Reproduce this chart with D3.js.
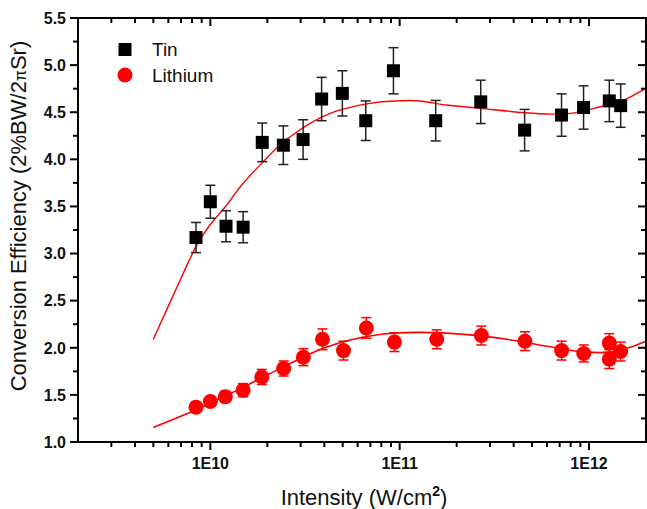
<!DOCTYPE html>
<html>
<head>
<meta charset="utf-8">
<script src="https://cdn.jsdelivr.net/npm/d3@7"></script>
<style>
  html, body { margin: 0; padding: 0; background: #fff; }
  svg { display: block; }
</style>
</head>
<body>
<svg id="chart" width="647" height="509"></svg>
<script>
// ---- data ----
const tinX = [8.4e9, 1.0e10, 1.21e10, 1.49e10, 1.88e10, 2.43e10, 3.09e10, 3.87e10, 4.98e10,
  6.62e10, 9.27e10, 1.55e11, 2.68e11, 4.57e11, 7.16e11, 9.36e11, 1.28e12, 1.47e12];
const tinY = [3.17, 3.55, 3.29, 3.28, 4.18, 4.15, 4.21, 4.64, 4.70,
  4.41, 4.94, 4.41, 4.61, 4.31, 4.47, 4.55, 4.62, 4.57];
const tinErr = [0.16, 0.175, 0.165, 0.165, 0.205, 0.205, 0.21, 0.23, 0.24,
  0.21, 0.245, 0.215, 0.23, 0.22, 0.225, 0.23, 0.22, 0.23];

const liX = [8.4e9, 1.0e10, 1.2e10, 1.49e10, 1.87e10, 2.44e10, 3.1e10, 3.91e10, 5.05e10, 6.67e10,
  9.38e10, 1.57e11, 2.7e11, 4.59e11, 7.17e11, 9.38e11, 1.28e12, 1.28e12, 1.47e12];
const liY = [1.37, 1.43, 1.48, 1.55, 1.69, 1.78, 1.90, 2.09, 1.97, 2.21,
  2.06, 2.09, 2.13, 2.07, 1.97, 1.94, 2.05, 1.88, 1.96];
const liErr = [0.05, 0.05, 0.06, 0.07, 0.08, 0.08, 0.09, 0.11, 0.10, 0.11,
  0.10, 0.10, 0.10, 0.10, 0.10, 0.09, 0.10, 0.10, 0.10];

// fit curves
const tinFitX = [5.0e9, 7.06e9, 8.48e9, 9.96e9, 1.2e10, 1.44e10, 1.76e10, 2.43e10, 2.64e10, 3.36e10,
  4.29e10, 5.47e10, 6.98e10, 8.9e10, 1.23e11, 1.77e11, 2.66e11, 4.57e11, 6.3e11, 8.0e11,
  8.97e11, 1.15e12, 1.46e12, 1.79e12, 2.0e12];
const tinFitY = [2.09, 2.754, 3.09, 3.303, 3.497, 3.709, 3.904, 4.187, 4.24, 4.382,
  4.488, 4.552, 4.594, 4.616, 4.622, 4.576, 4.541, 4.495, 4.48, 4.488,
  4.505, 4.558, 4.611, 4.70, 4.754];
const liFitX = [5.0e9, 8.37e9, 1.08e10, 1.49e10, 1.9e10, 2.43e10, 3.1e10, 3.95e10, 5.47e10, 8.2e10,
  1.23e11, 1.85e11, 2.77e11, 4.15e11, 6.22e11, 9.33e11, 1.29e12, 1.58e12, 2.0e12];
const liFitY = [1.155, 1.339, 1.445, 1.58, 1.69, 1.797, 1.903, 1.994, 2.082, 2.146,
  2.163, 2.153, 2.124, 2.074, 2.011, 1.957, 1.954, 1.994, 2.07];

const xMajor = [1e10, 1e11, 1e12];
const xMajorLabels = ['1E10', '1E11', '1E12'];
const yTicks = [1.0, 1.5, 2.0, 2.5, 3.0, 3.5, 4.0, 4.5, 5.0, 5.5];

// ---- layout ----
const svg = d3.select('#chart');
const mLeft = 78, mRight = 646, mTop = 18, mBottom = 442;
const font = "'Liberation Sans', Arial, sans-serif";

const x = d3.scaleLog().domain([2e9, 2e12]).range([mLeft, mRight]);
const y = d3.scaleLinear().domain([1.0, 5.5]).range([mBottom, mTop]);

// minor x ticks: 2..9 in each decade
const xMinor = [];
for (let e = 9; e <= 12; e++) {
  for (let m = 2; m <= 9; m++) {
    const v = m * Math.pow(10, e);
    if (v > 2e9 && v < 2e12) xMinor.push(v);
  }
}
const yMinor = d3.range(1.25, 5.5, 0.5);

// ---- fit curves ----
const line = d3.line()
  .x(d => x(d[0]))
  .y(d => y(d[1]))
  .curve(d3.curveCatmullRom.alpha(0.5));

svg.append('path')
  .datum(d3.zip(tinFitX, tinFitY))
  .attr('d', line)
  .attr('fill', 'none')
  .attr('stroke', '#f00')
  .attr('stroke-width', 1.4);

svg.append('path')
  .datum(d3.zip(liFitX, liFitY))
  .attr('d', line)
  .attr('fill', 'none')
  .attr('stroke', '#f00')
  .attr('stroke-width', 1.6);

// ---- error bars + markers ----
function errorBars(xs, ys, es, color) {
  const g = svg.append('g').attr('stroke', color).attr('stroke-width', 1.5);
  xs.forEach((xv, i) => {
    const cx = x(xv), y1 = y(ys[i] + es[i]), y2 = y(ys[i] - es[i]);
    g.append('line').attr('x1', cx).attr('x2', cx).attr('y1', y1).attr('y2', y2);
    g.append('line').attr('x1', cx - 5).attr('x2', cx + 5).attr('y1', y1).attr('y2', y1);
    g.append('line').attr('x1', cx - 5).attr('x2', cx + 5).attr('y1', y2).attr('y2', y2);
  });
}

errorBars(tinX, tinY, tinErr, '#222');
errorBars(liX, liY, liErr, '#f00');

svg.append('g').selectAll('rect')
  .data(d3.zip(tinX, tinY))
  .join('rect')
  .attr('x', d => x(d[0]) - 6.5)
  .attr('y', d => y(d[1]) - 6.5)
  .attr('width', 13)
  .attr('height', 13)
  .attr('fill', '#000');

svg.append('g').selectAll('circle')
  .data(d3.zip(liX, liY))
  .join('circle')
  .attr('cx', d => x(d[0]))
  .attr('cy', d => y(d[1]))
  .attr('r', 7.5)
  .attr('fill', '#f00');

// ---- axes / frame ----
const ax = svg.append('g').attr('stroke', '#000');

ax.append('rect')
  .attr('x', mLeft).attr('y', mTop)
  .attr('width', mRight - mLeft).attr('height', mBottom - mTop)
  .attr('fill', 'none').attr('stroke-width', 2);

// bottom ticks (out) and top ticks (in)
xMajor.forEach(v => {
  ax.append('line').attr('x1', x(v)).attr('x2', x(v)).attr('y1', mBottom).attr('y2', mBottom + 8).attr('stroke-width', 2);
  ax.append('line').attr('x1', x(v)).attr('x2', x(v)).attr('y1', mTop).attr('y2', mTop + 8).attr('stroke-width', 2);
});
xMinor.forEach(v => {
  ax.append('line').attr('x1', x(v)).attr('x2', x(v)).attr('y1', mBottom).attr('y2', mBottom + 5).attr('stroke-width', 2);
  ax.append('line').attr('x1', x(v)).attr('x2', x(v)).attr('y1', mTop).attr('y2', mTop + 5).attr('stroke-width', 2);
});

// left ticks (out) and right ticks (in)
yTicks.forEach(v => {
  ax.append('line').attr('x1', mLeft - 8).attr('x2', mLeft).attr('y1', y(v)).attr('y2', y(v)).attr('stroke-width', 2);
  ax.append('line').attr('x1', mRight - 8).attr('x2', mRight).attr('y1', y(v)).attr('y2', y(v)).attr('stroke-width', 2);
});
yMinor.forEach(v => {
  ax.append('line').attr('x1', mLeft - 5).attr('x2', mLeft).attr('y1', y(v)).attr('y2', y(v)).attr('stroke-width', 2);
  ax.append('line').attr('x1', mRight - 5).attr('x2', mRight).attr('y1', y(v)).attr('y2', y(v)).attr('stroke-width', 2);
});

// tick labels
svg.append('g').selectAll('text')
  .data(yTicks)
  .join('text')
  .text(d => d.toFixed(1))
  .attr('x', mLeft - 12)
  .attr('y', d => y(d))
  .attr('dy', '0.36em')
  .attr('text-anchor', 'end')
  .attr('font-family', font)
  .attr('font-size', '16px')
  .attr('font-weight', 'bold')
  .attr('fill', '#111');

svg.append('g').selectAll('text')
  .data(xMajor)
  .join('text')
  .text((d, i) => xMajorLabels[i])
  .attr('x', d => x(d))
  .attr('y', 469)
  .attr('text-anchor', 'middle')
  .attr('font-family', font)
  .attr('font-size', '16px')
  .attr('font-weight', 'bold')
  .attr('fill', '#111');

// axis titles
const xt = svg.append('text')
  .attr('x', 364)
  .attr('y', 505)
  .attr('text-anchor', 'middle')
  .attr('font-family', font)
  .attr('font-size', '22px')
  .attr('fill', '#111');
xt.append('tspan').text('Intensity (W/cm');
xt.append('tspan').text('2').attr('font-size', '14px').attr('font-weight', 'bold').attr('dy', '-9');
xt.append('tspan').text(')').attr('dy', '9');

const yt = svg.append('text')
  .attr('transform', 'translate(26,' + 216 + ') rotate(-90)')
  .attr('text-anchor', 'middle')
  .attr('font-family', font)
  .attr('font-size', '22px')
  .attr('fill', '#111');
yt.append('tspan').text('Conversion Efficiency (2%BW/2');
yt.append('tspan').text('π').attr('font-size', '16px');
yt.append('tspan').text('Sr)');

// ---- legend ----
svg.append('rect')
  .attr('x', 118.5).attr('y', 43)
  .attr('width', 13).attr('height', 13)
  .attr('fill', '#000');
svg.append('text')
  .text('Tin')
  .attr('x', 152).attr('y', 49).attr('dy', '0.36em')
  .attr('font-family', font).attr('font-size', '19px').attr('fill', '#111');

svg.append('circle')
  .attr('cx', 125).attr('cy', 75).attr('r', 7.5)
  .attr('fill', '#f00');
svg.append('text')
  .text('Lithium')
  .attr('x', 152).attr('y', 75).attr('dy', '0.36em')
  .attr('font-family', font).attr('font-size', '19px').attr('fill', '#111');
</script>
</body>
</html>
